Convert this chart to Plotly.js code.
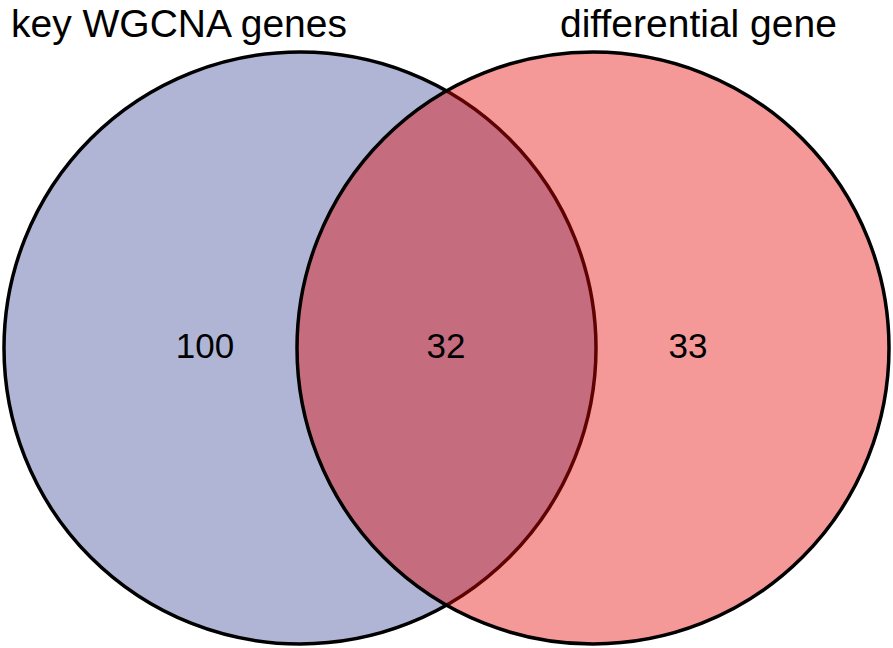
<!DOCTYPE html>
<html>
<head>
<meta charset="utf-8">
<script src="https://cdn.plot.ly/plotly-3.0.1.min.js"></script>
<style>
  html, body { margin: 0; padding: 0; background: #fff; }
  #venn { width: 893px; height: 648px; }
</style>
</head>
<body>
<div id="venn"></div>
<script>
// set names and region counts of the venn diagram
var setNames = ['key WGCNA genes', 'differential gene'];
var regionNames = ['key WGCNA only', 'both', 'differential only'];
var regionCounts = [100, 32, 33];

// geometry in pixel-like axis units (x to the right, y downward)
var W = 893, H = 648;
var R = 296;
var leftCenter = [300, 348];
var rightCenter = [593, 348];
var labelX = [205, 446, 688];
var labelY = 349;

var FONT = 'Liberation Sans, Arial, sans-serif';

function circle(c, fill) {
  return {
    type: 'circle',
    xref: 'x', yref: 'y',
    x0: c[0] - R, x1: c[0] + R,
    y0: c[1] - R, y1: c[1] + R,
    fillcolor: fill,
    line: { color: '#000000', width: 3.5 },
    layer: 'below'
  };
}

var countTrace = {
  type: 'scatter',
  mode: 'text',
  x: labelX,
  y: regionCounts.map(function() { return labelY; }),
  text: regionCounts.map(String),
  hovertext: regionNames,
  textposition: 'middle center',
  textfont: { family: FONT, size: 35, color: '#000000' },
  showlegend: false
};

var layout = {
  width: W,
  height: H,
  margin: { l: 0, r: 0, t: 0, b: 0 },
  paper_bgcolor: '#ffffff',
  plot_bgcolor: '#ffffff',
  showlegend: false,
  xaxis: { range: [0, W], visible: false, fixedrange: true },
  yaxis: { range: [H, 0], visible: false, fixedrange: true },
  shapes: [
    circle(leftCenter, 'rgb(176,181,213)'),
    // the second set lies on top, its fill lets the first one show through
    circle(rightCenter, 'rgba(231,4,4,0.41)')
  ],
  annotations: [
    {
      text: setNames[0], xref: 'x', yref: 'y', x: 9, y: 23,
      xanchor: 'left', yanchor: 'middle', showarrow: false,
      font: { family: FONT, size: 39, color: '#000000' }
    },
    {
      text: setNames[1], xref: 'x', yref: 'y', x: 839, y: 23,
      xanchor: 'right', yanchor: 'middle', showarrow: false,
      font: { family: FONT, size: 39, color: '#000000' }
    }
  ]
};

Plotly.newPlot('venn', [countTrace], layout, { displayModeBar: false, staticPlot: true });
</script>
</body>
</html>
